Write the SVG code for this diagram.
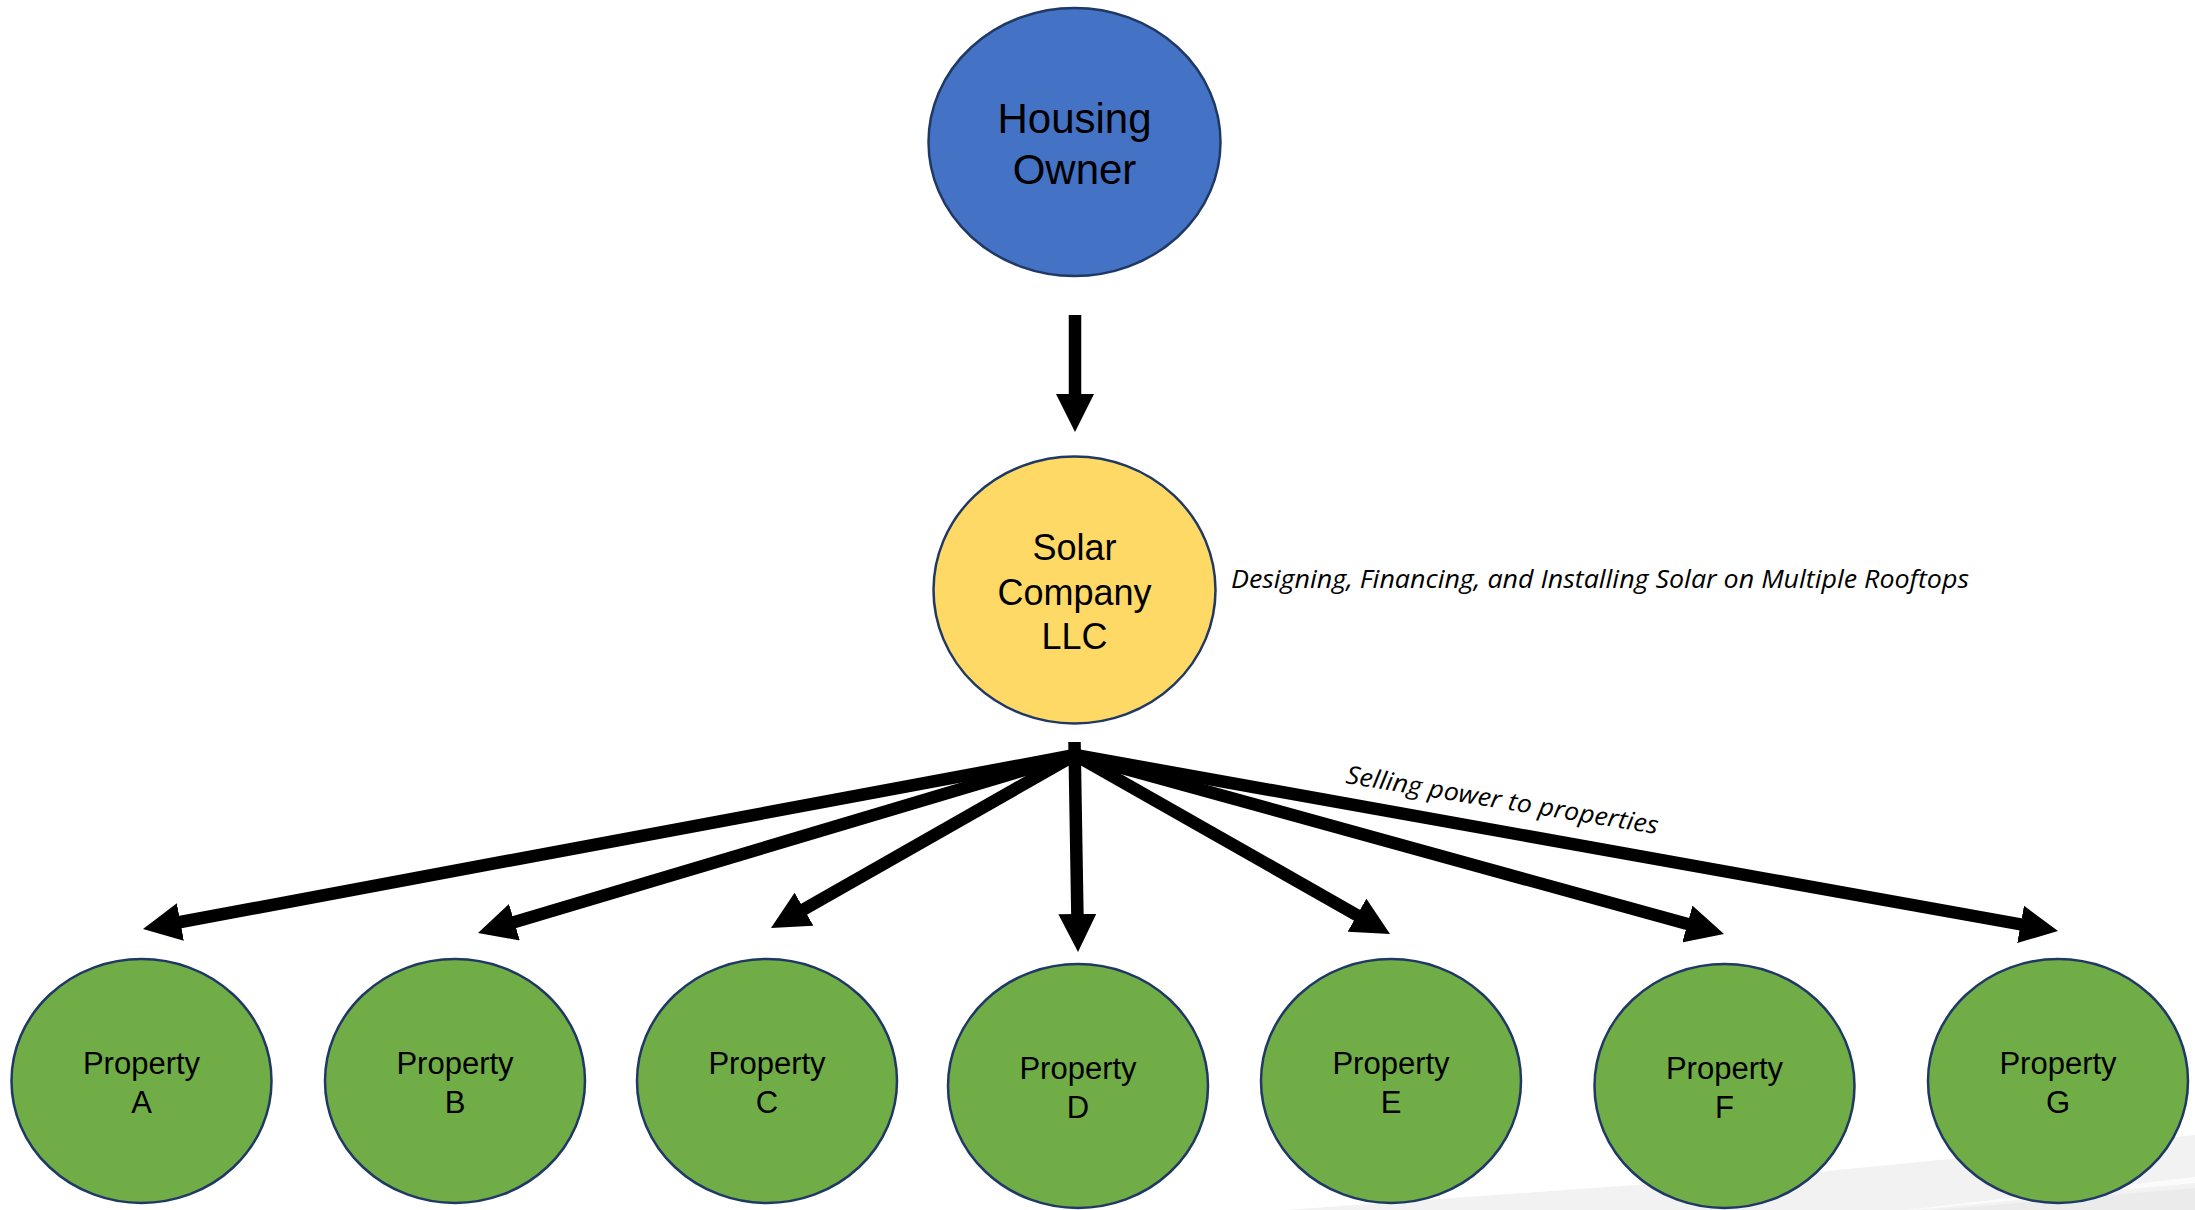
<svg xmlns="http://www.w3.org/2000/svg" width="2195" height="1210" viewBox="0 0 2195 1210">
<defs>
<style>
.node{stroke:#1F3864;stroke-width:2.5}
.lbl{font-family:"Liberation Sans",Arial,sans-serif;fill:#000;text-anchor:middle}
.note{font-family:"Open Sans","Liberation Sans",sans-serif;font-style:italic;fill:#000}
.conn{stroke:#000;stroke-width:12.5;fill:none}
</style>
<marker id="ah" viewBox="0 0 38 38" markerWidth="38" markerHeight="38" markerUnits="userSpaceOnUse" refX="19" refY="19" orient="auto">
<path d="M0,0 L38,19 L0,38 Z" fill="#000"/>
</marker>
</defs>
<rect width="2195" height="1210" fill="#fff"/>
<g id="background-swoosh">
<polygon points="1286,1210 1817,1172 2195,1135 2195,1210" fill="#f2f2f2"/>
<polygon points="1905,1210 2195,1177 2195,1183 1915,1210" fill="#fbfbfb"/>
<polygon points="1935,1210 2195,1188 2195,1210" fill="#ebebeb"/>
</g>
<g id="connectors">
<line class="conn" x1="1075" y1="315" x2="1075" y2="413" marker-end="url(#ah)"/>
<line class="conn" x1="1075" y1="755" x2="161.7" y2="925.5" marker-end="url(#ah)"/>
<line class="conn" x1="1075" y1="755" x2="496.2" y2="927.6" marker-end="url(#ah)"/>
<line class="conn" x1="1075" y1="755" x2="787.5" y2="918.6" marker-end="url(#ah)"/>
<line class="conn" x1="1074.5" y1="742" x2="1077.7" y2="933" marker-end="url(#ah)"/>
<line class="conn" x1="1075" y1="755" x2="1373.5" y2="924.6" marker-end="url(#ah)"/>
<line class="conn" x1="1075" y1="755" x2="1705.7" y2="929" marker-end="url(#ah)"/>
<line class="conn" x1="1075" y1="755" x2="2039.3" y2="927.7" marker-end="url(#ah)"/>
<text class="note" x="1345" y="783" font-size="25" textLength="316" lengthAdjust="spacingAndGlyphs" transform="rotate(9.3 1345 783)">Selling power to properties</text>
</g>
<g id="housing-owner">
<ellipse class="node" cx="1074.5" cy="142" rx="146" ry="134" fill="#4472C4"/>
<text class="lbl" x="1074.5" y="133" font-size="42">Housing</text>
<text class="lbl" x="1074.5" y="184" font-size="42">Owner</text>
</g>
<g id="solar-company">
<ellipse class="node" cx="1074.5" cy="590" rx="141" ry="133.5" fill="#FFD966"/>
<text class="lbl" x="1074.5" y="560" font-size="36">Solar</text>
<text class="lbl" x="1074.5" y="605" font-size="36">Company</text>
<text class="lbl" x="1074.5" y="649" font-size="36">LLC</text>
<text class="note" x="1231" y="588" font-size="26" textLength="738" lengthAdjust="spacingAndGlyphs">Designing, Financing, and Installing Solar on Multiple Rooftops</text>
</g>
<g id="property-a">
<ellipse class="node" cx="141.5" cy="1081" rx="130" ry="122" fill="#70AD47"/>
<text class="lbl" x="141.5" y="1074" font-size="31">Property</text>
<text class="lbl" x="141.5" y="1113" font-size="31">A</text>
</g>
<g id="property-b">
<ellipse class="node" cx="455" cy="1081" rx="130" ry="122" fill="#70AD47"/>
<text class="lbl" x="455" y="1074" font-size="31">Property</text>
<text class="lbl" x="455" y="1113" font-size="31">B</text>
</g>
<g id="property-c">
<ellipse class="node" cx="767" cy="1081" rx="130" ry="122" fill="#70AD47"/>
<text class="lbl" x="767" y="1074" font-size="31">Property</text>
<text class="lbl" x="767" y="1113" font-size="31">C</text>
</g>
<g id="property-d">
<ellipse class="node" cx="1078" cy="1086" rx="130" ry="122" fill="#70AD47"/>
<text class="lbl" x="1078" y="1079" font-size="31">Property</text>
<text class="lbl" x="1078" y="1118" font-size="31">D</text>
</g>
<g id="property-e">
<ellipse class="node" cx="1391" cy="1081" rx="130" ry="122" fill="#70AD47"/>
<text class="lbl" x="1391" y="1074" font-size="31">Property</text>
<text class="lbl" x="1391" y="1113" font-size="31">E</text>
</g>
<g id="property-f">
<ellipse class="node" cx="1724.5" cy="1086" rx="130" ry="122" fill="#70AD47"/>
<text class="lbl" x="1724.5" y="1079" font-size="31">Property</text>
<text class="lbl" x="1724.5" y="1118" font-size="31">F</text>
</g>
<g id="property-g">
<ellipse class="node" cx="2058" cy="1081" rx="130" ry="122" fill="#70AD47"/>
<text class="lbl" x="2058" y="1074" font-size="31">Property</text>
<text class="lbl" x="2058" y="1113" font-size="31">G</text>
</g>
</svg>
